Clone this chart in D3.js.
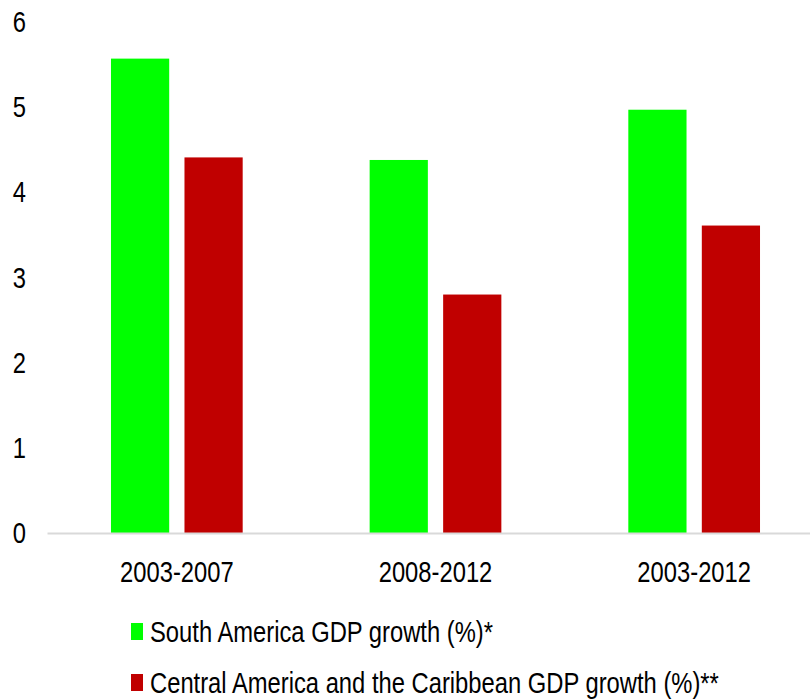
<!DOCTYPE html>
<html><head><meta charset="utf-8">
<script src="https://cdn.jsdelivr.net/npm/d3@7"></script>
<style>
html,body{margin:0;padding:0;background:#fff;}
text{font-family:"Liberation Sans",Arial,sans-serif;fill:#000;}
</style></head>
<body><svg id="chart" width="810" height="699"></svg>
<script>
const categories = ["2003-2007", "2008-2012", "2003-2012"];
const seriesNames = ["South America GDP growth (%)*", "Central America and the Caribbean GDP growth (%)**"];
const southAmerica = [5.57, 4.38, 4.97];
const centralAmerica = [4.41, 2.80, 3.61];
const yTicks = [0, 1, 2, 3, 4, 5, 6];
const colors = ["#00ff00", "#c00000"];
const SX = 0.82;

const svg = d3.select("#chart");
const x0 = d3.scaleBand().domain(categories).range([47.5, 823.5]).paddingInner(0).paddingOuter(0);
const x1 = d3.scaleBand().domain([0, 1]).range([0, 131.7]).paddingInner(0.208);
const groupOffset = (x0.bandwidth() - 131.7) / 2;
const y = d3.scaleLinear().domain([0, 6]).range([533, 22]);

const series = [southAmerica, centralAmerica];
categories.forEach((c, i) => {
  series.forEach((s, j) => {
    svg.append("rect")
      .attr("x", x0(c) + groupOffset + x1(j))
      .attr("width", x1.bandwidth())
      .attr("y", y(s[i]))
      .attr("height", y(0) - y(s[i]))
      .attr("fill", colors[j]);
  });
});

svg.append("line").attr("x1", 47.5).attr("x2", 810).attr("y1", y(0) + 0.5).attr("y2", y(0) + 0.5)
  .attr("stroke", "#d9d9d9").attr("stroke-width", 2);

svg.selectAll(".ylab").data(yTicks).enter().append("text")
  .attr("transform", d => `translate(26,${y(d) + 10}) scale(${SX},1)`).attr("text-anchor", "end")
  .style("font-size", "29px").text(d => d);

svg.selectAll(".xlab").data(categories).enter().append("text")
  .attr("transform", d => `translate(${x0(d) + x0.bandwidth() / 2},582) scale(${SX},1)`).attr("text-anchor", "middle")
  .style("font-size", "29px").text(d => d);

seriesNames.forEach((n, j) => {
  const ly = 623 + j * 51;
  svg.append("rect").attr("x", 131).attr("y", ly).attr("width", 12).attr("height", 17).attr("fill", colors[j]);
  svg.append("text").attr("transform", `translate(150,${ly + 18.5}) scale(${SX},1)`).style("font-size", "29px").text(n);
});
</script></body></html>
